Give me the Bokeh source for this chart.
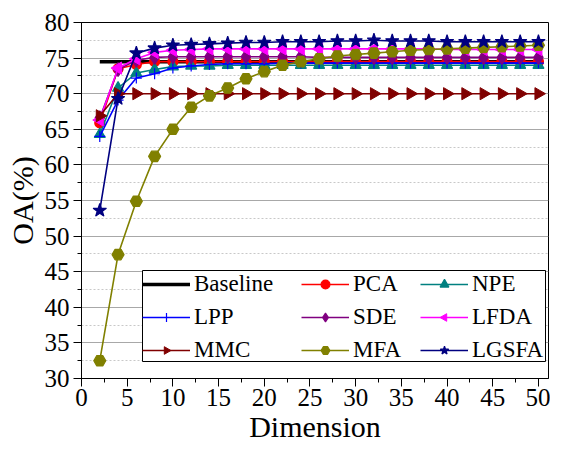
import math
from bokeh.plotting import figure
from bokeh.models import Legend, LegendItem, Range1d, SingleIntervalTicker, BoxAnnotation
from bokeh.core.properties import value
from bokeh.embed import file_html
from bokeh.resources import INLINE

dims = [2, 4, 6, 8, 10, 12, 14, 16, 18, 20, 22, 24, 26, 28, 30, 32, 34, 36, 38, 40, 42, 44, 46, 48, 50]

baseline = [74.5] * 25
pca = [65.9, 73.5, 74.1, 74.5, 74.5, 74.5, 74.5, 74.5, 74.5, 74.5, 74.5, 74.5, 74.5,
       74.5, 74.5, 74.5, 74.5, 74.5, 74.5, 74.5, 74.5, 74.5, 74.5, 74.5, 74.5]
npe = [64.3, 70.8, 72.9, 73.4, 73.8, 73.9, 73.9, 74.0, 74.0, 74.0, 74.0, 74.0, 74.0,
       74.0, 74.0, 74.0, 74.0, 74.0, 74.0, 74.0, 74.0, 74.0, 74.0, 74.0, 74.0]
lpp = [64.0, 69.1, 72.2, 72.8, 73.6, 73.9, 74.1, 74.2, 74.2, 74.2, 74.3, 74.3, 74.3,
       74.3, 74.3, 74.3, 74.3, 74.3, 74.3, 74.3, 74.3, 74.3, 74.3, 74.3, 74.3]
sde = [66.6, 73.4, 74.7, 75.1, 75.2, 75.2, 75.2, 75.2, 75.2, 75.2, 75.2, 75.2, 75.1,
       75.1, 75.1, 75.1, 75.1, 75.1, 75.1, 75.1, 75.1, 75.1, 75.1, 75.1, 75.1]
lfda = [66.3, 73.6, 74.9, 75.8, 76.1, 76.2, 76.3, 76.3, 76.3, 76.3, 76.3, 76.3, 76.3,
        76.3, 76.3, 76.3, 76.3, 76.3, 76.3, 76.2, 76.2, 76.2, 76.2, 76.2, 76.2]
mmc = [66.9, 70.0, 70.0, 70.0, 70.0, 70.0, 70.0, 70.0, 70.0, 70.0, 70.0, 70.0, 70.0,
       70.0, 70.0, 70.0, 70.0, 70.0, 70.0, 70.0, 70.0, 70.0, 70.0, 70.0, 70.0]
mfa = [32.5, 47.4, 54.9, 61.2, 65.0, 68.1, 69.7, 70.8, 72.1, 73.1, 74.0, 74.5, 74.9,
       75.3, 75.5, 75.7, 75.9, 76.1, 76.2, 76.3, 76.4, 76.5, 76.6, 76.7, 76.8]
lgsfa = [53.6, 69.3, 75.7, 76.4, 76.8, 76.9, 77.0, 77.1, 77.2, 77.2, 77.3, 77.3, 77.3,
         77.4, 77.4, 77.5, 77.4, 77.4, 77.4, 77.3, 77.3, 77.3, 77.3, 77.3, 77.3]

FONT = "'Liberation Serif'"

p = figure(width=550, height=434, output_backend="svg", toolbar_location=None,
           x_range=Range1d(0, 51.1), y_range=Range1d(30, 80),
           frame_width=467, frame_height=356,
           min_border_left=81, min_border_right=2, min_border_top=22, min_border_bottom=56)

p.outline_line_color = "black"
p.outline_line_width = 1
p.outline_line_alpha = 1

p.xaxis.ticker = SingleIntervalTicker(interval=5, num_minor_ticks=2)
p.yaxis.ticker = SingleIntervalTicker(interval=5, num_minor_ticks=2)
for ax in (p.xaxis[0], p.yaxis[0]):
    ax.major_tick_in = 0
    ax.major_tick_out = 8
    ax.minor_tick_in = 0
    ax.minor_tick_out = 4
    ax.axis_line_color = "black"
    ax.major_tick_line_color = "black"
    ax.minor_tick_line_color = "black"
    ax.major_label_text_font = FONT
    ax.major_label_text_font_size = "25px"
    ax.major_label_text_color = "black"
    ax.axis_label_text_font = FONT
    ax.axis_label_text_font_size = "30px"
    ax.axis_label_text_font_style = "normal"
    ax.axis_label_text_color = "black"
p.xaxis.axis_label = "Dimension"
p.yaxis.axis_label = "OA(%)"
p.xaxis.major_label_standoff = 2
p.yaxis.major_label_standoff = 4
p.xaxis.axis_label_standoff = 1
p.yaxis.axis_label_standoff = 3

p.xgrid.grid_line_color = None
p.ygrid.grid_line_color = "#a8a8a8"
p.ygrid.grid_line_width = 1.2
p.ygrid.minor_grid_line_color = "#c8c8c8"
p.ygrid.minor_grid_line_dash = "2 2"

n = len(dims)
series = [
    ("PCA", pca, "#ff0000", "circle", None, 10),
    ("NPE", npe, "#008080", "triangle", None, 11),
    ("LPP", lpp, "#0000ff", "cross", None, 11),
    ("SDE", sde, "#800080", "diamond", None, 14),
    ("LFDA", lfda, "#ff00ff", "ngon", math.pi / 2, 10),
    ("MMC", mmc, "#800000", "ngon", -math.pi / 2, 10),
    ("MFA", mfa, "#808000", "hex", None, 12),
    ("LGSFA", lgsfa, "#000080", "star", None, 14),
]

items = {}
bl = p.line(dims, baseline, line_color="black", line_width=3.5)
items["Baseline"] = [bl]
for name, vals, col, mk, ang, sz in series:
    r1 = p.line(dims, vals, line_color=col, line_width=1.6)
    if mk == "ngon":
        try:
            r2 = p.ngon(x=dims, y=vals, radius=7, radius_units="screen", n=3,
                        angle=ang, fill_color=col, line_color=col, line_width=1.0)
        except Exception:
            ch = "\u25c0" if ang > 0 else "\u25b6"
            r2 = p.text(x=dims, y=vals, text=[ch] * n, text_color=col,
                        text_align="center", text_baseline="middle",
                        text_font=value("DejaVu Sans"), text_font_size="13px")
    else:
        r2 = p.scatter(x=dims, y=vals, marker=mk, size=sz,
                       fill_color=col, line_color=col, line_width=1.2)
    items[name] = [r1, r2]

box = BoxAnnotation(left=61, right=464, bottom=17, top=108,
                    left_units="screen", right_units="screen",
                    bottom_units="screen", top_units="screen",
                    fill_color="white", fill_alpha=1,
                    line_color="black", line_width=1, line_alpha=1)
p.add_layout(box)

columns = [["Baseline", "LPP", "MMC"], ["PCA", "SDE", "MFA"], ["NPE", "LFDA", "LGSFA"]]
col_x = [61, 220, 339]
for names, cx in zip(columns, col_x):
    lg = Legend(items=[LegendItem(label=nm, renderers=items[nm]) for nm in names],
                location=(cx, 15), orientation="vertical")
    lg.label_text_font = FONT
    lg.label_text_font_size = "23px"
    lg.label_text_color = "black"
    lg.glyph_width = 48
    lg.glyph_height = 22
    lg.label_standoff = 4
    lg.label_height = 22
    lg.spacing = 7
    lg.padding = 5
    lg.margin = 0
    lg.border_line_color = None
    lg.background_fill_alpha = 0
    p.add_layout(lg, "center")

open("out.html", "w").write(file_html(p, INLINE))
